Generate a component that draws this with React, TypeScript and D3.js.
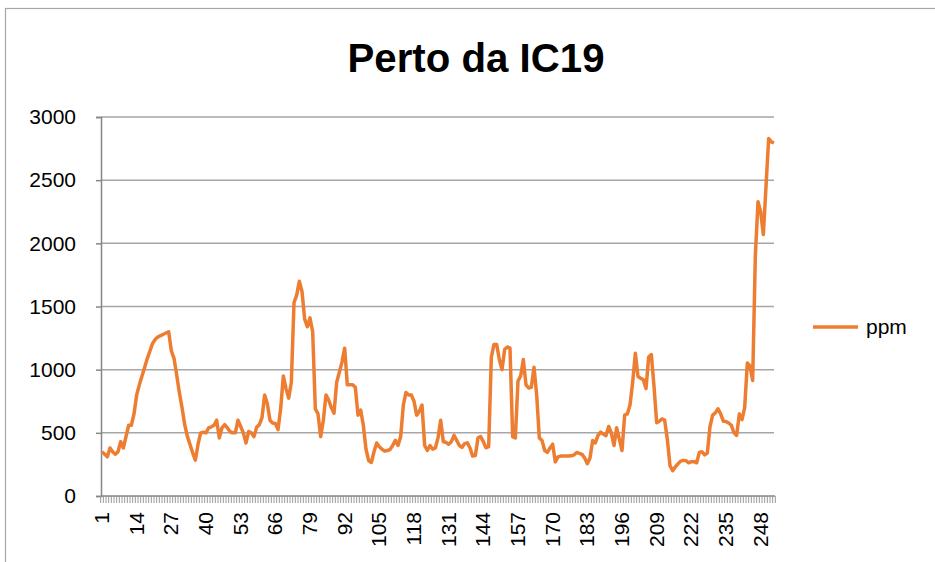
import { useEffect, useRef } from 'react'
import * as d3 from 'd3'

const title = 'Perto da IC19'
const seriesName = 'ppm'

// ppm readings, one per sample (1..253)
const ppm = [
  350, 330, 310, 380, 350, 330, 350, 430, 380, 470,
  560, 560, 650, 800, 880, 950, 1020, 1090, 1150, 1210,
  1240, 1260, 1270, 1280, 1290, 1300, 1150, 1090, 960, 820,
  700, 566, 474, 408, 342, 284, 408, 500, 505, 500,
  540, 548, 560, 600, 460, 540, 565, 540, 510, 500,
  500, 600, 550, 500, 420, 510, 500, 470, 545, 565,
  620, 800, 730, 600, 577, 574, 525, 690, 950, 850,
  775, 900, 1530, 1590, 1700, 1620, 1400, 1340, 1410, 1300,
  690, 650, 470, 600, 800, 760, 700, 655, 900, 980,
  1060, 1170, 880, 880, 880, 860, 640, 680, 560, 370,
  280, 265, 350, 420, 390, 370, 355, 360, 368, 400,
  440, 400, 470, 720, 820, 800, 800, 750, 640, 670,
  720, 400, 360, 400, 370, 380, 460, 600, 430, 425,
  410, 430, 480, 440, 400, 385, 415, 421, 380, 316,
  320, 460, 470, 430, 382, 390, 1100, 1200, 1200, 1080,
  1000, 1160, 1180, 1170, 470, 460, 910, 950, 1080, 880,
  855, 860, 1020, 800, 460, 440, 360, 345, 380, 410,
  270, 310, 316, 316, 316, 316, 318, 325, 345, 338,
  330, 300, 255, 300, 440, 420, 480, 505, 490, 478,
  550, 500, 400, 540, 450, 360, 640, 650, 720, 900,
  1130, 945, 932, 921, 850, 1100, 1120, 870, 580, 592,
  610, 600, 450, 240, 200, 230, 255, 276, 282, 280,
  263, 272, 272, 263, 345, 350, 325, 340, 550, 640,
  658, 690, 650, 592, 590, 578, 560, 500, 480, 650,
  605, 700, 1053, 1030, 915, 1900, 2329, 2250, 2070, 2450,
  2830, 2803, 2795,
]

const categories = ppm.map((_, i) => i + 1)
const xTickLabels = [1, 14, 27, 40, 53, 66, 79, 92, 105, 118, 131, 144, 157, 170, 183, 196, 209, 222, 235, 248]
const yTicks = [0, 500, 1000, 1500, 2000, 2500, 3000]

export default function App() {
  const rootRef = useRef<SVGSVGElement>(null)

  useEffect(() => {
    const width = 935,
      height = 562
    const plot = { left: 101, right: 774, top: 117, bottom: 496 }
    const orange = '#ED7D31'
    const font = "'Liberation Sans', Arial, sans-serif"

    const svg = d3.select(rootRef.current).attr('width', width).attr('height', height)
    svg.selectAll('*').remove()

    svg.append('rect').attr('width', width).attr('height', height).attr('fill', '#fff')
    // chart border (runs off the right and bottom)
    svg
      .append('rect')
      .attr('x', 5.5)
      .attr('y', 8.5)
      .attr('width', 1000)
      .attr('height', 1000)
      .attr('fill', 'none')
      .attr('stroke', '#a6a6a6')
      .attr('stroke-width', 1.2)

    const x = d3.scalePoint<number>().domain(categories).range([plot.left + 1, plot.right])
    const y = d3.scaleLinear().domain([0, 3000]).range([plot.bottom, plot.top])

    // gridlines
    svg
      .append('g')
      .selectAll('line')
      .data(yTicks.filter((d) => d > 0))
      .join('line')
      .attr('x1', plot.left)
      .attr('x2', plot.right)
      .attr('y1', (d) => y(d))
      .attr('y2', (d) => y(d))
      .attr('stroke', '#a6a6a6')
      .attr('stroke-width', 1.5)

    // y axis
    const yAxis = svg
      .append('g')
      .attr('transform', `translate(${plot.left},0)`)
      .call(d3.axisLeft(y).tickValues(yTicks).tickFormat(d3.format('d')).tickSize(5).tickPadding(20))
    yAxis.select('.domain').attr('stroke', '#868686').attr('stroke-width', 1.5)
    yAxis.selectAll('.tick line').attr('stroke', '#868686').attr('stroke-width', 1.5)
    yAxis
      .selectAll('.tick text')
      .attr('fill', '#000')
      .attr('font-family', font)
      .attr('font-size', 21)

    // x axis: a tick per category
    const step = x.step()
    const xTickPos = d3.range(categories.length + 1).map((i) => plot.left + 1 + (i - 0.5) * step)
    svg
      .append('g')
      .selectAll('line')
      .data(xTickPos)
      .join('line')
      .attr('x1', (d) => d)
      .attr('x2', (d) => d)
      .attr('y1', plot.bottom)
      .attr('y2', plot.bottom + 7)
      .attr('stroke', '#999')
      .attr('stroke-width', 1)
    svg
      .append('line')
      .attr('x1', plot.left)
      .attr('x2', plot.right + 1)
      .attr('y1', plot.bottom)
      .attr('y2', plot.bottom)
      .attr('stroke', '#868686')
      .attr('stroke-width', 1.5)

    svg
      .append('g')
      .selectAll('text')
      .data(xTickLabels)
      .join('text')
      .attr('transform', (d) => `translate(${x(d)! + 7},512) rotate(-90)`)
      .attr('text-anchor', 'end')
      .attr('font-family', font)
      .attr('font-size', 21)
      .text((d) => d)

    // the series
    svg
      .append('path')
      .datum(ppm)
      .attr('fill', 'none')
      .attr('stroke', orange)
      .attr('stroke-width', 3.5)
      .attr('stroke-linejoin', 'round')
      .attr(
        'd',
        d3
          .line<number>()
          .x((_, i) => x(categories[i])!)
          .y((d) => y(d))
      )

    // title
    svg
      .append('text')
      .attr('x', 476)
      .attr('y', 72)
      .attr('text-anchor', 'middle')
      .attr('font-family', "'Liberation Sans Narrow', 'Liberation Sans', Arial, sans-serif")
      .attr('font-weight', 'bold')
      .attr('font-size', 40)
      .attr('textLength', 257)
      .attr('lengthAdjust', 'spacingAndGlyphs')
      .text(title)

    // legend
    svg
      .append('line')
      .attr('x1', 813)
      .attr('x2', 858)
      .attr('y1', 327)
      .attr('y2', 327)
      .attr('stroke', orange)
      .attr('stroke-width', 3.5)
    svg
      .append('text')
      .attr('x', 866)
      .attr('y', 334)
      .attr('font-family', font)
      .attr('font-size', 21)
      .text(seriesName)
  }, [])

  return <svg ref={rootRef} style={{ position: 'absolute', left: 0, top: 0 }}></svg>
}
